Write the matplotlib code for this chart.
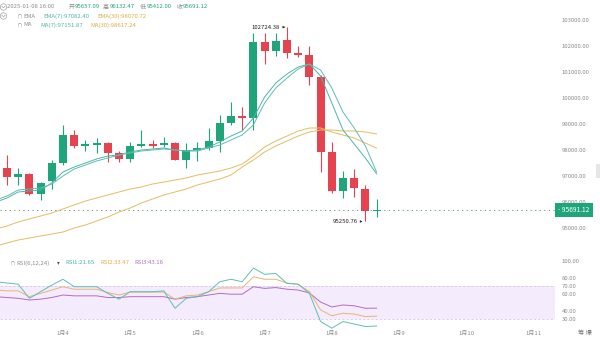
import numpy as np
import matplotlib
matplotlib.use('Agg')
import matplotlib.pyplot as plt
from matplotlib.patches import Ellipse, Rectangle
from matplotlib.lines import Line2D

plt.rcParams['font.family'] = ['Noto Sans CJK SC', 'DejaVu Sans']

# 4h candles, Jan 3 00:00 .. Jan 8 16:00
opens = [97500, 97308, 96962, 97077, 96308, 96800, 97500, 98577, 98154, 98192,
         98269, 97885, 97654, 98154, 98231, 98192, 98269, 97615, 98000, 98077,
         98346, 99038, 99308, 99231, 102154, 101808, 102231, 101731, 101654, 100808,
         97923, 96423, 96923, 96500, 95657.09]
highs = [97700, 97808, 97308, 97115, 96769, 97615, 98962, 98769, 98385, 98462,
         98308, 97962, 98308, 98769, 98385, 98500, 98308, 98269, 98308, 98846,
         99346, 99846, 99654, 102500, 102500, 102500, 102724.38, 102000, 102000, 100885,
         98308, 97192, 97269, 96654, 96132.47]
lows = [97150, 96654, 96654, 96269, 96077, 96500, 97423, 98077, 97962, 97885,
        97538, 97538, 97538, 98115, 98077, 98115, 97615, 97308, 97577, 98000,
        97923, 98962, 98769, 98769, 101308, 101615, 101538, 101577, 100500, 97154,
        96346, 96154, 96192, 95250.76, 95412.00]
closes = [97308, 96962, 97077, 96308, 96731, 97500, 98577, 98154, 98231, 98269,
          97885, 97654, 98154, 98231, 98154, 98269, 97615, 98000, 98077, 98346,
          99038, 99308, 99231, 102154, 101808, 102192, 101731, 101654, 100808, 97923,
          96423, 96923, 96538, 95657, 95691.12]

ema7 = [96000, 96154, 96385, 96423, 96462, 96731, 97154, 97346, 97500, 97654,
        97769, 97808, 97923, 98000, 98038, 98077, 98000, 97962, 98000, 98115,
        98308, 98538, 98731, 99231, 100038, 100577, 100923, 101192, 101308, 100846,
        99808, 98769, 98231, 97692, 97082.40]
ma7 = [96077, 96231, 96462, 96500, 96538, 96692, 97000, 97269, 97423, 97577,
       97692, 97808, 97885, 97962, 98000, 98038, 98000, 97962, 97962, 98077,
       98192, 98385, 98577, 98962, 99808, 100385, 100769, 101115, 101308, 101077,
       100385, 99462, 98846, 98154, 97151.87]
ema30 = [94962, 95077, 95231, 95346, 95462, 95577, 95731, 95885, 96038, 96154,
         96269, 96385, 96500, 96577, 96692, 96769, 96846, 96923, 97038, 97115,
         97192, 97308, 97462, 97769, 98115, 98346, 98538, 98731, 98846, 98846,
         98692, 98577, 98462, 98269, 98070.72]
ma30 = [94308, 94423, 94538, 94615, 94692, 94769, 94846, 95000, 95115, 95269,
        95423, 95615, 95769, 95962, 96115, 96269, 96385, 96500, 96654, 96769,
        96885, 97038, 97346, 97615, 97923, 98154, 98346, 98538, 98692, 98769,
        98769, 98731, 98731, 98692, 98617.24]

rsi6 = [75, 73.5, 72, 55, 63, 71, 78, 69, 69, 69, 61, 54, 63, 63, 63, 64, 43, 55,
        57, 63, 75, 78, 75, 91.5, 84, 85, 73, 72, 61, 27, 19, 27, 24, 21, 21.65]
rsi12 = [65, 64, 64, 57, 61, 65, 69, 66, 66, 66, 62, 59, 62.5, 62.5, 62.5, 62.5, 54,
         58, 59, 63, 67.5, 67.5, 67.5, 81, 78, 78, 73.5, 72, 63, 41, 34, 37, 36, 33,
         33.47]
rsi24 = [57, 56, 55, 53, 54, 56, 59, 58, 58, 58, 56, 56, 57, 57, 57, 57, 54, 56, 57,
         59, 61, 60, 60, 69, 67, 68, 66, 65, 61.5, 50.5, 44.6, 47, 46, 43, 43.16]

day_pos = [6, 12, 18, 24, 30, 36, 42, 48]
day_labels = ['1月4', '1月5', '1月6', '1月7', '1月8', '1月9', '1月10', '1月11']
price_ticks = [95000, 96000, 97000, 98000, 99000, 100000, 101000, 102000, 103000]
rsi_ticks = [30, 40, 60, 70, 80, 100]

GREEN = '#1fa57a'
RED = '#e4434f'
TEAL = '#4db5aa'
GOLD = '#e5bc62'
PURPLE = '#b36cc2'
GRAY = '#8c8c8c'

W, H = 600, 342
fig = plt.figure(figsize=(6, 3.42), dpi=100)
fig.patch.set_facecolor('white')

ax = fig.add_axes([0, 1 - 250 / H, 555 / W, 250 / H])
ax2 = fig.add_axes([0, 1 - 330 / H, 555 / W, 78 / H])

x = np.arange(len(opens))
o = np.array(opens); c = np.array(closes)
up = c >= o
colors = [GREEN if u else RED for u in up]
bottoms = np.minimum(o, c)
heights = np.maximum(np.abs(c - o), 45)

ax.vlines(x, lows, highs, colors=colors, lw=0.8, zorder=2)
ax.bar(x, heights, bottom=bottoms, width=0.72, color=colors, zorder=3, linewidth=0)

ax.plot(x, ema30, color=GOLD, lw=0.7, zorder=4)
ax.plot(x, ma30, color=GOLD, lw=0.7, zorder=4)
ax.plot(x, ema7, color=TEAL, lw=0.7, zorder=4)
ax.plot(x, ma7, color='#5fbcb4', lw=0.7, zorder=4)

last = closes[-1]
ax.axhline(last, color='#5d968a', lw=0.7, ls=(0, (1.2, 3.5)), zorder=1)

# high / low markers
ax.annotate('', xy=(25.85, highs[26]), xytext=(25.45, highs[26]),
            arrowprops=dict(arrowstyle='-|>', color='#333333', lw=0.5,
                            mutation_scale=3))
ax.text(25.4, highs[26], '102724.38', ha='right', va='center', fontsize=4.3,
        color='#222222')
ax.annotate('', xy=(32.75, lows[33]), xytext=(32.35, lows[33]),
            arrowprops=dict(arrowstyle='-|>', color='#333333', lw=0.5,
                            mutation_scale=3))
ax.text(32.3, lows[33], '95250.76', ha='right', va='center', fontsize=4.3,
        color='#222222')

xlim = (0.375, 49.93)
ax.set_xlim(*xlim)
ax.set_ylim(94154, 103769)
ax.set_xticks([])
ax.yaxis.tick_right()
ax.set_yticks(price_ticks)
ax.set_yticklabels(['%.2f' % p for p in price_ticks])
ax.tick_params(axis='y', length=0, pad=5, labelsize=4.3, labelcolor=GRAY)
for s in ax.spines.values():
    s.set_visible(False)

# last price tag
ax.text(1.006, last, '- 95691.12', transform=ax.get_yaxis_transform(),
        ha='left', va='center', fontsize=4.8, color='white', zorder=6,
        bbox=dict(boxstyle='square,pad=0.45', fc=GREEN, ec='none'))

# RSI panel
ax2.axhspan(30, 70, color='#f4ebfd', lw=0, zorder=0)
ax2.axhline(70, color='#d8c7e6', lw=0.6, ls=(0, (3, 2)), zorder=1)
ax2.axhline(30, color='#d8c7e6', lw=0.6, ls=(0, (3, 2)), zorder=1)
ax2.plot(x, rsi24, color=PURPLE, lw=0.7, zorder=3)
ax2.plot(x, rsi12, color='#eab474', lw=0.7, zorder=3)
ax2.plot(x, rsi6, color='#5cc0b5', lw=0.7, zorder=3)
ax2.set_xlim(*xlim)
ax2.set_ylim(16.8, 110.9)
ax2.yaxis.tick_right()
ax2.set_yticks(rsi_ticks)
ax2.set_yticklabels(['%.2f' % r for r in rsi_ticks])
ax2.tick_params(axis='y', length=0, pad=5, labelsize=4.3, labelcolor=GRAY)
ax2.set_xticks(day_pos)
ax2.set_xticklabels(day_labels)
ax2.tick_params(axis='x', length=0, pad=0.5, labelsize=4.3, labelcolor=GRAY)
ax2.patch.set_alpha(0)
for s in ax2.spines.values():
    s.set_visible(False)


def ftxt(px, py, s, color=GRAY, size=4.3, **kw):
    fig.text(px / W, 1 - py / H, s, color=color, fontsize=size,
             ha='left', va='center', **kw)


def chevron_icon(px, py):
    fig.patches.append(Ellipse((px / W, 1 - py / H), 6.4 / W, 6.4 / H,
                               transform=fig.transFigure, fill=False,
                               ec='#a0a0a0', lw=0.5))
    fig.lines.append(Line2D([(px - 1.5) / W, px / W, (px + 1.5) / W],
                            [1 - (py - 0.7) / H, 1 - (py + 0.8) / H, 1 - (py - 0.7) / H],
                            transform=fig.transFigure, color='#a0a0a0', lw=0.5))


# header rows
chevron_icon(3.5, 7)
ftxt(7, 7, '2025-01-08 16:00')
ftxt(68.5, 7, '开')
ftxt(75, 7, '95657.09', GREEN)
ftxt(102.5, 7, '高')
ftxt(110, 7, '96132.47', GREEN)
ftxt(139.5, 7, '低')
ftxt(147, 7, '95412.00', GREEN)
ftxt(176.5, 7, '收')
ftxt(183, 7, '95691.12', GREEN)

chevron_icon(3.5, 16)
ftxt(17.5, 16, '∩', '#a0a0a0', 4)
ftxt(23, 16, 'EMA')
ftxt(43, 16, 'EMA(7):97082.40', TEAL)
ftxt(97, 16, 'EMA(30):98070.72', '#dcae3e')

ftxt(17.5, 25, '∩', '#a0a0a0', 4)
ftxt(23, 25, 'MA')
ftxt(40, 25, 'MA(7):97151.87', TEAL)
ftxt(90, 25, 'MA(30):98617.24', '#dcae3e')

ftxt(10, 263, '∩', '#a0a0a0', 4)
ftxt(16, 263, 'RSI(6,12,24)')
ftxt(56.5, 263, '▾', '#555555', 4)
ftxt(65, 263, 'RSI1:21.65', '#3fb8ab')
ftxt(100, 263, 'RSI2:33.47', '#dcae3e')
ftxt(134, 263, 'RSI3:43.16', PURPLE)

ftxt(578, 333, '筹 爆', '#777777', 4.5)

# scroll handle on the right edge
fig.patches.append(Rectangle((596 / W, 1 - 178 / H), 4 / W, 14 / H,
                             transform=fig.transFigure, fc='#e6e6e6', ec='none'))

fig.savefig('out.png', dpi=100)
